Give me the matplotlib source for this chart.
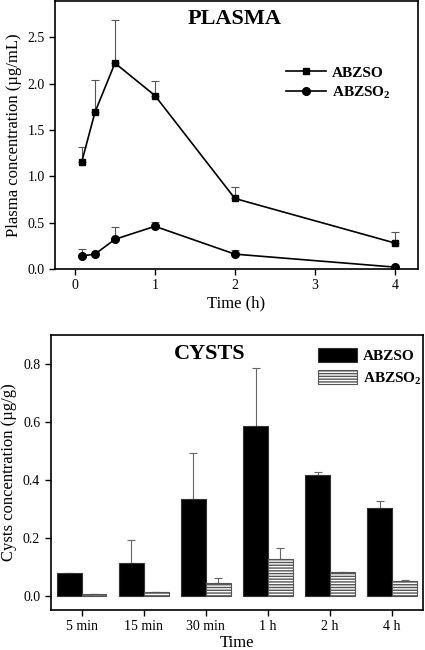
import matplotlib
matplotlib.use("Agg")
import matplotlib.pyplot as plt
import numpy as np

plt.rcParams['font.family'] = ['Liberation Serif', 'DejaVu Serif']
plt.rcParams['mathtext.fontset'] = 'custom'
plt.rcParams['mathtext.rm'] = 'Liberation Serif'
plt.rcParams['mathtext.bf'] = 'Liberation Serif:bold'

# ---- Plasma data ----
plasma_time = [0.083, 0.25, 0.5, 1, 2, 4]
plasma_abzso = [1.15, 1.69, 2.22, 1.87, 0.76, 0.28]
plasma_abzso_err = [0.16, 0.35, 0.47, 0.16, 0.12, 0.12]
plasma_abzso2 = [0.14, 0.16, 0.32, 0.46, 0.16, 0.02]
plasma_abzso2_err = [0.07, 0.0, 0.13, 0.05, 0.04, 0.0]

# ---- Cysts data ----
cyst_labels = ['5 min', '15 min', '30 min', '1 h', '2 h', '4 h']
cyst_abzso = [0.078, 0.113, 0.336, 0.588, 0.416, 0.304]
cyst_abzso_err = [0.003, 0.080, 0.157, 0.198, 0.011, 0.023]
cyst_abzso2 = [0.006, 0.013, 0.044, 0.128, 0.084, 0.051]
cyst_abzso2_err = [0.0, 0.0, 0.017, 0.037, 0.0, 0.003]

series_names = ['ABZSO', r'ABZSO$_\mathbf{2}$']

fig = plt.figure(figsize=(4.25, 6.5), dpi=100)

# ---------- PLASMA ----------
ax1 = fig.add_axes([0.1294, 0.5862, 0.8541, 0.4123])
ax1.errorbar(plasma_time, plasma_abzso,
             yerr=[np.zeros(len(plasma_abzso)), plasma_abzso_err],
             fmt='none', ecolor='#555555', elinewidth=0.8, capsize=3, capthick=0.8)
ax1.errorbar(plasma_time, plasma_abzso2,
             yerr=[np.zeros(len(plasma_abzso2)), plasma_abzso2_err],
             fmt='none', ecolor='#555555', elinewidth=0.8, capsize=3, capthick=0.8)
ax1.plot(plasma_time, plasma_abzso, color='black', marker='s', markersize=5,
         linewidth=1.2, label=series_names[0])
ax1.plot(plasma_time, plasma_abzso2, color='black', marker='o', markersize=5.5,
         linewidth=1.2, label=series_names[1])
ax1.set_xlim(-0.25, 4.29)
ax1.set_ylim(0, 2.89)
ax1.set_xticks([0, 1, 2, 3, 4])
ax1.set_yticks([0.0, 0.5, 1.0, 1.5, 2.0, 2.5])
ax1.set_yticklabels(['0.0', '0.5', '1.0', '1.5', '2.0', '2.5'])
ax1.tick_params(direction='out', length=4, width=1, labelsize=10)
ax1.set_xlabel('Time (h)', fontsize=12, labelpad=2)
ax1.set_ylabel('Plasma concentration (\u00b5g/mL)', fontsize=12, labelpad=4)
ax1.text(0.496, 0.932, 'PLASMA', transform=ax1.transAxes, ha='center', va='center',
         fontsize=16, fontweight='bold')
ax1.legend(loc='upper left', bbox_to_anchor=(0.62, 0.78), frameon=False,
           prop={'weight': 'bold', 'size': 11}, handlelength=2.6,
           handletextpad=0.4, labelspacing=0.3, borderaxespad=0)
for s in ax1.spines.values():
    s.set_linewidth(1.2)

# ---------- CYSTS ----------
ax2 = fig.add_axes([0.119, 0.0615, 0.877, 0.4231])
x = np.arange(len(cyst_labels))
w = 0.4
ax2.bar(x - w / 2, cyst_abzso, width=w, color='black', edgecolor='#333333',
        linewidth=0.8, label=series_names[0], zorder=2)
ax2.bar(x + w / 2, cyst_abzso2, width=w, color='white', edgecolor='#555555',
        linewidth=0.8, hatch='------', label=series_names[1], zorder=2)
ax2.errorbar(x - w / 2, cyst_abzso,
             yerr=[np.zeros(len(cyst_abzso)), cyst_abzso_err],
             fmt='none', ecolor='#666666', elinewidth=0.8, capsize=3, capthick=0.8, zorder=1)
ax2.errorbar(x + w / 2, cyst_abzso2,
             yerr=[np.zeros(len(cyst_abzso2)), cyst_abzso2_err],
             fmt='none', ecolor='#666666', elinewidth=0.8, capsize=3, capthick=0.8, zorder=1)
ax2.set_xlim(-0.5, 5.5)
ax2.set_ylim(-0.048, 0.90)
ax2.set_xticks(x)
ax2.set_xticklabels(cyst_labels)
ax2.set_yticks([0.0, 0.2, 0.4, 0.6, 0.8])
ax2.set_yticklabels(['0.0', '0.2', '0.4', '0.6', '0.8'])
ax2.tick_params(direction='out', length=4, width=1, labelsize=10)
ax2.set_xlabel('Time', fontsize=12, labelpad=1)
ax2.set_ylabel('Cysts concentration (\u00b5g/g)', fontsize=12, labelpad=4)
ax2.text(0.427, 0.93, 'CYSTS', transform=ax2.transAxes, ha='center', va='center',
         fontsize=16, fontweight='bold')
ax2.legend(loc='upper left', bbox_to_anchor=(0.70, 0.975), frameon=False,
           prop={'weight': 'bold', 'size': 11}, handlelength=2.6, handleheight=1.0,
           handletextpad=0.35, labelspacing=0.45, borderaxespad=0)
for s in ax2.spines.values():
    s.set_linewidth(1.2)

fig.savefig('out.png', dpi=100)
